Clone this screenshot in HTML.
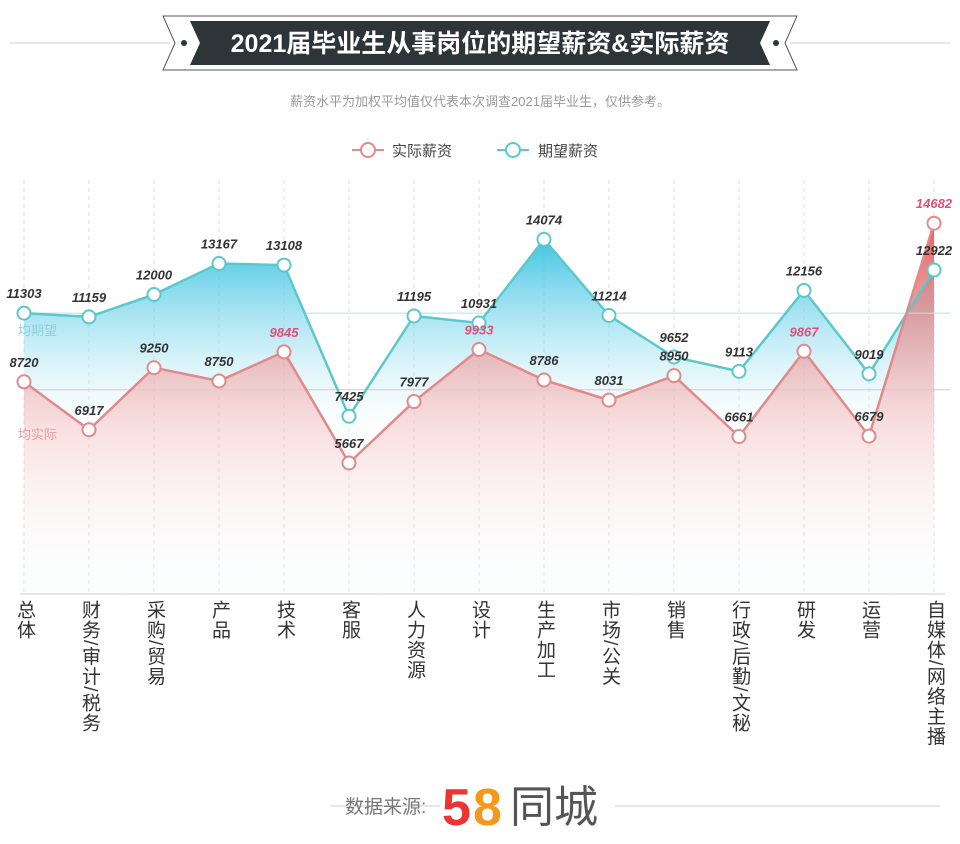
<!DOCTYPE html>
<html><head><meta charset="utf-8"><style>
body{margin:0;background:#fff;font-family:"Liberation Sans","Noto Sans CJK SC",sans-serif;}
#wrap{position:relative;width:960px;height:844px;overflow:hidden;}
.cat{position:absolute;top:600px;writing-mode:vertical-rl;font-size:19px;color:#333;line-height:20px;letter-spacing:1px;}
</style></head><body>
<div id="wrap">
<svg id="svg" width="960" height="844" style="position:absolute;left:0;top:0">
<defs>
<linearGradient id="gb" gradientUnits="userSpaceOnUse" x1="0" y1="235" x2="0" y2="430">
<stop offset="0" stop-color="#2fbfe0" stop-opacity="0.95"/><stop offset="0.5" stop-color="#8fdcee" stop-opacity="0.6"/><stop offset="1" stop-color="#e6f7fb" stop-opacity="0.1"/></linearGradient>
<linearGradient id="gr" gradientUnits="userSpaceOnUse" x1="0" y1="230" x2="0" y2="600">
<stop offset="0" stop-color="#e45c5c" stop-opacity="0.95"/><stop offset="0.4" stop-color="#f2a8a8" stop-opacity="0.6"/><stop offset="1" stop-color="#fff" stop-opacity="0"/></linearGradient>
</defs>
<line x1="10" y1="43" x2="170" y2="43" stroke="#ccc"/>
<line x1="790" y1="43" x2="950" y2="43" stroke="#ccc"/>
<polygon points="163,16 797,16 785,43 797,70 163,70 175,43" fill="#fff" stroke="#555"/>
<polygon points="190,21 770,21 760,43 770,65 190,65 200,43" fill="#2e3539"/>
<circle cx="184" cy="43" r="3" fill="#2e3539"/><circle cx="776" cy="43" r="3" fill="#2e3539"/>
<text x="480" y="52" text-anchor="middle" fill="#fff" font-size="25" font-weight="bold">2021届毕业生从事岗位的期望薪资&amp;实际薪资</text>
<text x="480" y="106" text-anchor="middle" fill="#999" font-size="13">薪资水平为加权平均值仅代表本次调查2021届毕业生，仅供参考。</text>
<g><line x1="352" y1="150" x2="384" y2="150" stroke="#e08a8a" stroke-width="2"/><circle cx="368" cy="150" r="7" fill="#fff" stroke="#e08a8a" stroke-width="2"/><text x="392" y="156" font-size="15" fill="#444">实际薪资</text></g>
<g><line x1="497" y1="150" x2="529" y2="150" stroke="#5cc8cc" stroke-width="2"/><circle cx="513" cy="150" r="7" fill="#fff" stroke="#5cc8cc" stroke-width="2"/><text x="538" y="156" font-size="15" fill="#444">期望薪资</text></g>
<g id="plot"></g>
<line x1="330" y1="806" x2="440" y2="806" stroke="#ccc"/>
<line x1="615" y1="806" x2="940" y2="806" stroke="#ccc"/>
<text x="345" y="813" font-size="19" fill="#777">数据来源:</text>
<text x="442" y="825" font-size="52" font-weight="bold" fill="#e33">5</text>
<text x="473" y="825" font-size="52" font-weight="bold" fill="#f39a1e">8</text>
<text x="510" y="822" font-size="44" fill="#555">同城</text>
</svg>
<div id="cats"></div>
</div>
<script>
const categories=["总体","财务/审计/税务","采购/贸易","产品","技术","客服","人力资源","设计","生产加工","市场/公关","销售","行政/后勤/文秘","研发","运营","自媒体/网络主播"];
const expected=[11303,11159,12000,13167,13108,7425,11195,10931,14074,11214,9652,9113,12156,9019,12922];
const actual=[8720,6917,9250,8750,9845,5667,7977,9933,8786,8031,8950,6661,9867,6679,14682];
const highlight=[4,7,12,14];
const avgExpected=11300, avgActual=8420;
const NS="http://www.w3.org/2000/svg";
const xs=i=>24+i*65.0;
const ys=v=>463-(v-5667)*0.0266;
const plot=document.getElementById('plot');
function mk(t,a){const e=document.createElementNS(NS,t);for(const k in a)e.setAttribute(k,a[k]);plot.appendChild(e);return e;}
const bottom=594;
categories.forEach((c,i)=>{const l=mk('line',{x1:xs(i),y1:180,x2:xs(i),y2:bottom,stroke:'#ddd','stroke-dasharray':'4,4'});

});
const pts=a=>a.map((v,i)=>xs(i)+','+ys(v)).join(' ');
const last=categories.length-1;
let a1=mk('polygon',{points:pts(expected)+` ${xs(last)},${bottom} ${xs(0)},${bottom}`,fill:'url(#gb)'});


let a2=mk('polygon',{points:pts(actual)+` ${xs(last)},${bottom} ${xs(0)},${bottom}`,fill:'url(#gr)'});


let ae=mk('line',{x1:xs(0),y1:ys(avgExpected),x2:950,y2:ys(avgExpected),stroke:'#b9dfe6'});


let aa=mk('line',{x1:xs(0),y1:ys(avgActual),x2:950,y2:ys(avgActual),stroke:'#e8c4c4'});


let t1=mk('text',{x:18,y:ys(avgExpected)+22,'font-size':13,fill:'#8fd3dd'});t1.textContent='均期望';


let t2=mk('text',{x:18,y:ys(avgActual)+49,'font-size':13,fill:'#e8a0a0'});t2.textContent='均实际';


mk('line',{x1:20,y1:bottom,x2:945,y2:bottom,stroke:'#ccc'});
let le=mk('polyline',{points:pts(expected),fill:'none',stroke:'#5cc8cc','stroke-width':2.5});


let la=mk('polyline',{points:pts(actual),fill:'none',stroke:'#e08a8a','stroke-width':2.5});


function series(arr,col,name){arr.forEach((v,i)=>{
 const c=mk('circle',{cx:xs(i),cy:ys(v),r:6.5,fill:'#fff',stroke:col,'stroke-width':2});
 
 
 const t=mk('text',{x:xs(i),y:ys(v)-15,'text-anchor':'middle','font-size':13,'font-weight':'bold','font-style':'italic',fill:(name==='actual'&&highlight.includes(i))?'#e0507a':'#333'});
 t.textContent=v;
 
 
});}
series(expected,'#5cc8cc','expected');
series(actual,'#e08a8a','actual');
const cats=document.getElementById('cats');
categories.forEach((c,i)=>{const d=document.createElement('div');d.className='cat';d.textContent=c;d.style.left=(xs(i)-10)+'px';


cats.appendChild(d);});
</script>
</body></html>
